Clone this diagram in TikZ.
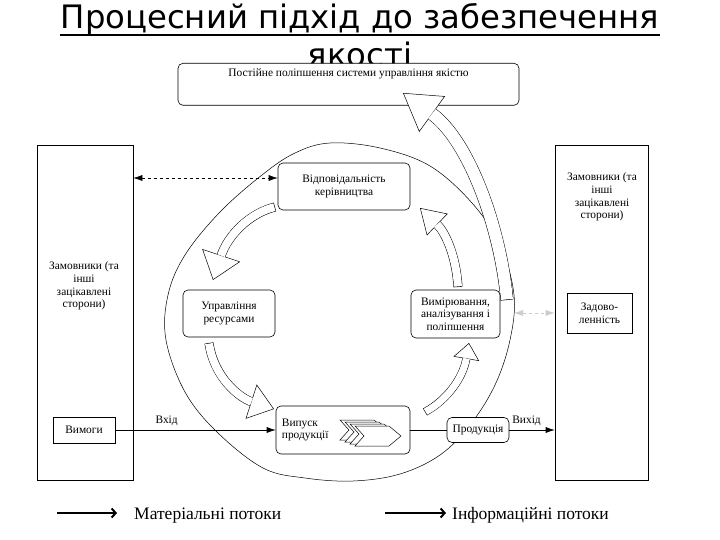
\documentclass[tikz,border=0pt]{standalone}
\usepackage{fontspec}
\setmainfont{Liberation Serif}
\newfontfamily\titlefont{DejaVu Sans}
\usetikzlibrary{arrows.meta, positioning, calc}

% curved block arrow: body width, tip width, tip length, path
\newcommand{\bandarrow}[4]{%
  \draw[line width=#1pt, -{Triangle[width=#2pt, length=#3pt, line width=.5pt, fill=white]}] #4;
  \draw[white, line width=#1pt-1pt, shorten <=.6pt, shorten >=#3pt-.3pt] #4;
}

\begin{document}
\begin{tikzpicture}[x=1pt, y=-1pt,
    every node/.style={font=\fontsize{11.4}{12.6}\selectfont, align=center, inner sep=1pt},
    box/.style={draw, fill=white, line width=.6pt},
    stage/.style={box, rounded corners=5pt},
    flow/.style={line width=.6pt, -{Latex[length=9pt, width=6pt]}},
    info/.style={line width=.6pt, dashed, {Latex[length=9pt, width=6pt]}-{Latex[length=9pt, width=6pt]}},
    legendarrow/.style={line width=2.6pt, -{Straight Barb[length=4pt, width=9pt, line width=2pt]}},
    legendtext/.style={anchor=base west, font=\fontsize{17.5}{19}\selectfont},
    titletext/.style={anchor=base, font=\titlefont\fontsize{32.3}{36}\selectfont}
]
\useasboundingbox (0,0) rectangle (720,540);

% title
\node[titletext] (title1) at (360,29) {Процесний підхід до забезпечення};
\draw[line width=1.4pt] ([yshift=-6pt]title1.base west) -- ([yshift=-6pt]title1.base east);
\node[titletext] (title2) at (360,67) {якості};

% continual improvement
\node[stage, anchor=north, minimum width=341pt, text height=9pt, text depth=25pt, inner ysep=4pt] (improve) at (348.5,63) {Постійне поліпшення системи управління якістю};

% process circle
\draw[line width=.5pt] plot[smooth cycle, tension=0.6] coordinates {
  (330,143) (380,148) (430,166) (472,203) (500,245) (514,295) (510,340)
  (495,385) (470,425) (440,455) (400,474) (353,481) (305,478) (263,468)
  (217,432) (185,392) (166,340) (168,295) (185,255) (220,212) (262,175) (295,153)};

% block arrows
\bandarrow{13}{44}{36}{(507,300) .. controls (500,225) and (468,140) .. (403,93)}
\bandarrow{9}{40}{26}{(275,207) .. controls (250,213) and (228,235) .. (213,280)}
\bandarrow{9}{36}{24}{(209,343) .. controls (214,378) and (240,398) .. (274,409)}
\bandarrow{8}{26}{16}{(425,412) .. controls (447,400) and (463,378) .. (469,343)}
\bandarrow{9}{30}{24}{(458,287) .. controls (456,255) and (445,232) .. (420,208)}

% customers
\node[box, minimum width=96pt, minimum height=335pt] (custL) at (85,312.5) {};
\node (custLtxt) at (84,286) {Замовники (та\\інші\\зацікавлені\\сторони)};
\node[box, minimum width=62pt, minimum height=26pt] (req) at (84,430) {Вимоги};

\node[box, minimum width=93pt, minimum height=335pt] (custR) at (601.5,312.5) {};
\node (custRtxt) at (602,197) {Замовники (та\\інші\\зацікавлені\\сторони)};
\node[box, minimum width=65pt, minimum height=40pt] (satis) at (599.5,313) {Задово-\\ленність};

% processes
\node[stage, minimum width=132pt, minimum height=47pt] (resp) at (344,186.5) {Відповідальність\\керівництва};
\node[stage, minimum width=92pt, minimum height=47pt] (res) at (229,313.5) {Управління\\ресурсами};
\node[stage, minimum width=89pt, minimum height=48pt] (meas) at (455.5,314) {Вимірювання,\\аналізування і\\поліпшення};
\node[stage, minimum width=134pt, minimum height=48pt] (prod) at (343,430) {};
\node[anchor=west, align=left] (prodtxt) at ([xshift=5pt]prod.west) {Випуск\\продукції};
\node[stage, minimum width=62pt, minimum height=25pt] (out) at (478,430) {Продукція};

% chevrons inside product realisation
\foreach \i in {0,1,2,3}
  \draw[fill=white, line width=.5pt, shift={(340+5*\i,420+2*\i)}]
    (0,0) -- (34,0) -- (46,10) -- (34,20) -- (0,20) -- (9,10) -- cycle;

% flows
\coordinate (circE) at (514,313);
\draw[info] (custL.east |- 0,178) -- ([yshift=8.5pt]resp.west);
\draw[info, draw=black!20] (circE) -- (custR.west |- circE);
\draw[flow] (req.east) -- node[pos=.32, above=3pt] {Вхід} (prod.west);
\draw[line width=.6pt] (prod.east) -- (out.west);
\draw[flow] (out.east) -- node[pos=.38, above=3pt] {Вихід} (custR.west |- out.east);

% legend
\node[legendtext] (mat) at (133,519) {Матеріальні потоки};
\coordinate (matS) at (57,513);
\coordinate (matE) at (117,513);
\draw[legendarrow] (matS) -- (matE);
\node[legendtext] (inf) at (451,519) {Інформаційні потоки};
\coordinate (infS) at (385,513);
\coordinate (infE) at (446,513);
\draw[legendarrow] (infS) -- (infE);

\end{tikzpicture}
\end{document}
